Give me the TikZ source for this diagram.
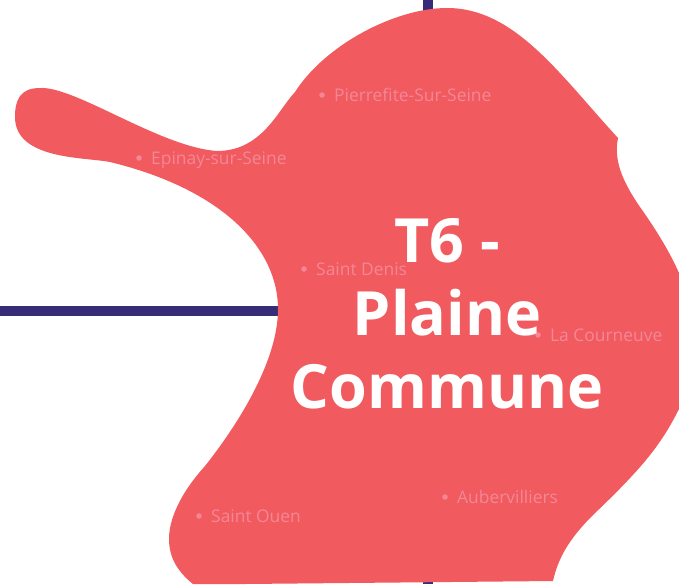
\documentclass[tikz,border=0pt]{standalone}
\usepackage{fontspec}
\setmainfont{Open Sans}
\definecolor{blob}{HTML}{F15A5E}
\definecolor{bar}{HTML}{372C78}
\definecolor{soft}{HTML}{F48796}
\tikzset{
  place/.style={anchor=base west,inner sep=0pt,text=soft,font=\fontsize{17.4}{20}\selectfont},
  spot/.style={circle,fill=soft,inner sep=0pt,minimum size=5.5pt},
  headline/.style={anchor=base,inner sep=0pt,text=white,font=\fontsize{61}{73}\selectfont\bfseries}
}
\begin{document}
\begin{tikzpicture}[x=1pt,y=-1pt]
\useasboundingbox (0,0) rectangle (679,584);
\fill[white] (0,0) rectangle (679,584);
\fill[bar] (423,0) rectangle (433,20);
\fill[bar] (423,570) rectangle (433,584);
\fill[bar] (0,306) rectangle (290,316);
\fill[blob]
  (618,138) .. controls (614,158) and (620,178) .. (640,207)
  .. controls (652,224) and (668,248) .. (679,273)
  -- (679,409)
  .. controls (660,447) and (640,470) .. (593,515)
  .. controls (575,533) and (559,553) .. (553,581)
  -- (245,584) -- (193,584)
  .. controls (178,572) and (169,558) .. (169,539)
  .. controls (169,515) and (185,488) .. (205,466)
  .. controls (232,432) and (278,365) .. (278,309)
  .. controls (278,250) and (225,190) .. (110,162)
  .. controls (85,157) and (15,160) .. (15,117)
  .. controls (15,100) and (20,88) .. (40,88)
  .. controls (75,86) and (160,147) .. (217,151)
  .. controls (262,151) and (278,110) .. (295,92)
  .. controls (325,45) and (395,8) .. (447,8)
  .. controls (515,8) and (560,75) .. (618,138)
  -- cycle;
\node[spot] (s1) at (322,95) {};
\node[place] (t1) at (334,101) {Pierrefite-Sur-Seine};
\node[spot] (s2) at (139,158) {};
\node[place] (t2) at (151,164) {Epinay-sur-Seine};
\node[spot] (s3) at (304,269) {};
\node[place] (t3) at (316,275) {Saint Denis};
\node[spot] (s4) at (538,335) {};
\node[place] (t4) at (550,341) {La Courneuve};
\node[spot] (s5) at (445,497) {};
\node[place] (t5) at (457,503) {Aubervilliers};
\node[spot] (s6) at (199,516) {};
\node[place] (t6) at (211,522) {Saint Ouen};
\node[headline] (h1) at (447,262) {T6 -};
\node[headline] (h2) at (447,335) {Plaine};
\node[headline] (h3) at (447,408) {Commune};
\end{tikzpicture}
\end{document}
